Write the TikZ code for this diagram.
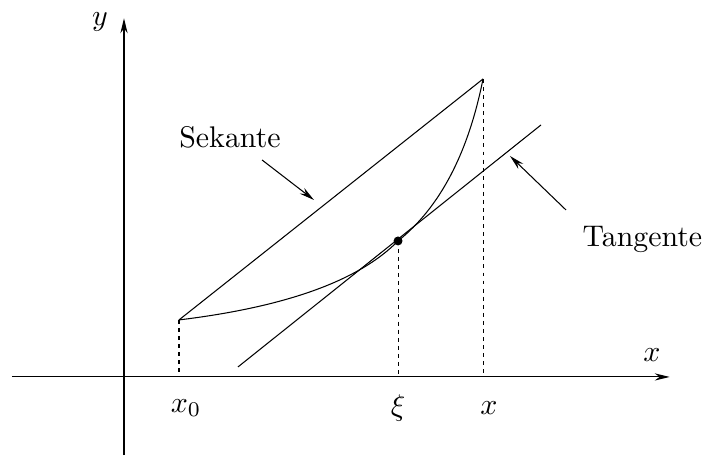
\documentclass[tikz,border=0pt]{standalone}
\usepackage{amsmath, amssymb}
\usetikzlibrary{arrows.meta, positioning, calc}

\begin{document}
\begin{tikzpicture}[
      line width=0.35pt,
      arr/.style={-{Stealth[length=5pt, width=2.4pt]}},
      guide/.style={dash pattern=on 1.3pt off 1.4pt},
      lbl/.style={inner sep=1pt}
    ]
      \useasboundingbox (-1.459, -0.925) rectangle (6.824, 4.435);

      % axes
      \coordinate (xl) at (-1.318, 0);
      \coordinate (xr) at (6.42, 0);
      \coordinate (yb) at (0, -0.92);
      \coordinate (yt) at (0, 4.22);
      \draw[arr] (xl) -- (xr);
      \draw[arr] (yb) -- (yt);
      \node (xlab) at (6.212, 0.259) {$x$};
      \node (ylab) at (-0.282, 4.176) {$y$};

      % points on the graph
      \coordinate (p0) at (0.647, 0.671);
      \coordinate (pxi) at (3.224, 1.6);
      \coordinate (p1) at (4.224, 3.506);
      \coordinate (a0) at (0.647, 0);
      \coordinate (axi) at (3.224, 0);
      \coordinate (a1) at (4.224, 0);

      % graph, secant, tangent
      \draw (p0) .. controls (1.906, 0.824) and (2.765, 1.133) .. (pxi)
                 .. controls (3.715, 1.993) and (4.049, 2.629) .. (p1);
      \draw (p0) -- (p1);
      \coordinate (t0) at (1.341, 0.118);
      \coordinate (t1) at (4.906, 2.965);
      \draw (t0) -- (t1);
      \fill (pxi) circle (1.5pt);

      \draw[guide] (p0) -- (a0);
      \draw[guide] (pxi) -- (axi);
      \draw[guide] (p1) -- (a1);

      \node (lx0) at (0.73, -0.365) {$x_0$};
      \node (lxi) at (3.224, -0.365) {$\xi$};
      \node (lx) at (4.294, -0.365) {$x$};

      % labels
      \node[lbl] (sek) at (1.247, 2.824) {Sekante};
      \node[lbl] (tan) at (6.1, 1.612) {Tangente};
      \coordinate (sekfrom) at (1.624, 2.553);
      \coordinate (sekto) at (2.235, 2.082);
      \coordinate (tanfrom) at (5.2, 1.965);
      \coordinate (tanto) at (4.541, 2.6);
      \draw[arr] (sekfrom) -- (sekto);
      \draw[arr] (tanfrom) -- (tanto);
    \end{tikzpicture}
\end{document}
